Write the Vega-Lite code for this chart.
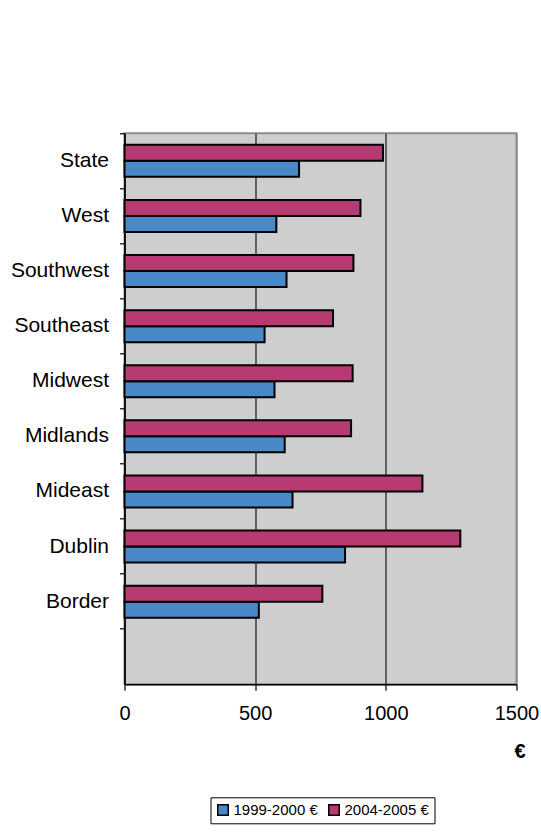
{
  "$schema": "https://vega.github.io/schema/vega-lite/v6.json",
  "width": 392,
  "height": 551,
  "autosize": "none",
  "padding": {"left": 124.5, "top": 133.3, "right": 24.5, "bottom": 152.7},
  "background": "white",
  "config": {
    "font": "Liberation Sans",
    "view": {"fill": "#cecece", "stroke": "#8c8c8c", "strokeWidth": 2}
  },
  "data": {
    "values": [
      {"region": "State", "period": "1999-2000 €", "value": 668},
      {"region": "State", "period": "2004-2005 €", "value": 989},
      {"region": "West", "period": "1999-2000 €", "value": 581},
      {"region": "West", "period": "2004-2005 €", "value": 903},
      {"region": "Southwest", "period": "1999-2000 €", "value": 620},
      {"region": "Southwest", "period": "2004-2005 €", "value": 876},
      {"region": "Southeast", "period": "1999-2000 €", "value": 536},
      {"region": "Southeast", "period": "2004-2005 €", "value": 798},
      {"region": "Midwest", "period": "1999-2000 €", "value": 574},
      {"region": "Midwest", "period": "2004-2005 €", "value": 873},
      {"region": "Midlands", "period": "1999-2000 €", "value": 613},
      {"region": "Midlands", "period": "2004-2005 €", "value": 867},
      {"region": "Mideast", "period": "1999-2000 €", "value": 643},
      {"region": "Mideast", "period": "2004-2005 €", "value": 1140},
      {"region": "Dublin", "period": "1999-2000 €", "value": 844},
      {"region": "Dublin", "period": "2004-2005 €", "value": 1285},
      {"region": "Border", "period": "1999-2000 €", "value": 514},
      {"region": "Border", "period": "2004-2005 €", "value": 757}
    ]
  },
  "mark": {"type": "bar", "stroke": "black", "strokeWidth": 2},
  "encoding": {
    "y": {
      "field": "region",
      "type": "nominal",
      "scale": {
        "domain": ["State", "West", "Southwest", "Southeast", "Midwest", "Midlands", "Mideast", "Dublin", "Border", " "],
        "paddingInner": 0,
        "paddingOuter": 0
      },
      "axis": {
        "title": null,
        "bandPosition": 0,
        "domainColor": "black",
        "domainWidth": 1.5,
        "tickColor": "black",
        "tickSize": 5,
        "tickWidth": 1.2,
        "labelPadding": 11,
        "labelFontSize": 21,
        "labelColor": "black",
        "labelFont": "Liberation Sans"
      }
    },
    "yOffset": {
      "field": "period",
      "type": "nominal",
      "scale": {"domain": ["2004-2005 €", "1999-2000 €"], "paddingInner": 0, "paddingOuter": 0.72}
    },
    "x": {
      "field": "value",
      "type": "quantitative",
      "scale": {"domain": [0, 1500], "nice": false},
      "axis": {
        "values": [0, 500, 1000, 1500],
        "format": "d",
        "labelFlush": false,
        "grid": true,
        "gridColor": {"condition": {"test": "datum.value === 1500", "value": "#8c8c8c"}, "value": "#1a1a1a"},
        "gridWidth": 1.2,
        "domainColor": "black",
        "domainWidth": 1.5,
        "tickColor": "black",
        "tickSize": 6,
        "tickWidth": 1.2,
        "labelPadding": 13,
        "labelFontSize": 20,
        "labelColor": "black",
        "labelFont": "Liberation Sans",
        "title": "€",
        "titleFontSize": 20,
        "titleFontWeight": "bold",
        "titleColor": "black",
        "titleAlign": "center",
        "titleBaseline": "middle",
        "titleAnchor": "start",
        "titleX": 395,
        "titleY": 67
      }
    },
    "color": {
      "field": "period",
      "type": "nominal",
      "scale": {"domain": ["1999-2000 €", "2004-2005 €"], "range": ["#4a89c8", "#b73a73"]},
      "legend": {
        "title": null,
        "orient": "none",
        "legendX": 86,
        "legendY": 664,
        "direction": "horizontal",
        "strokeColor": "black",
        "fillColor": "white",
        "padding": 5,
        "symbolType": "square",
        "symbolSize": 110,
        "symbolStrokeColor": "black",
        "symbolStrokeWidth": 1.5,
        "symbolOpacity": 1,
        "labelFontSize": 15,
        "labelColor": "black",
        "labelFont": "Liberation Sans",
        "labelOffset": 3,
        "columnPadding": 7
      }
    }
  }
}
